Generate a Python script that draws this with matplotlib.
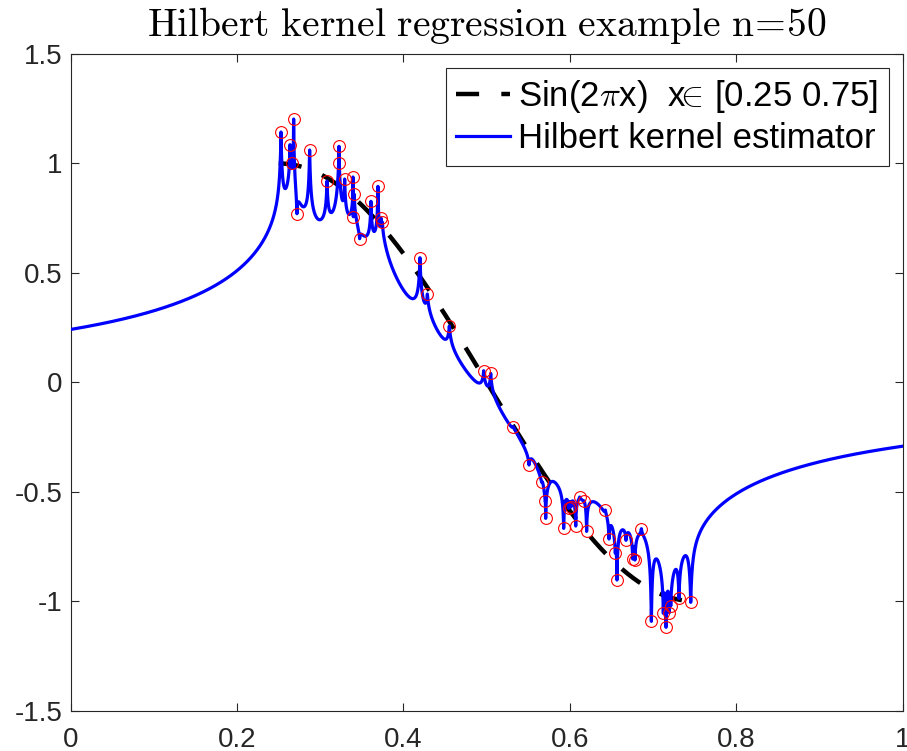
import numpy as np
import matplotlib
matplotlib.use("Agg")
import matplotlib.pyplot as plt

# --- data (sample points) ---
x_samples = [0.2528, 0.2680, 0.2636, 0.2664, 0.2720, 0.2872, 0.3081, 0.3225, 0.3221, 0.3293,
             0.3393, 0.3409, 0.3397, 0.3473, 0.3609, 0.3693, 0.3730, 0.3746, 0.4198, 0.4287,
             0.4551, 0.4964, 0.5048, 0.5320, 0.5509, 0.5661, 0.5705, 0.5709, 0.5925, 0.5985,
             0.6013, 0.6070, 0.6117, 0.6174, 0.6201, 0.6426, 0.6470, 0.6546, 0.6566, 0.6674,
             0.6755, 0.6782, 0.6859, 0.6979, 0.7123, 0.7155, 0.7195, 0.7212, 0.7311, 0.7452]
y_samples = [1.1434, 1.2028, 1.0856, 1.0003, 0.7704, 1.0612, 0.9196, 1.0780, 1.0033, 0.9287,
             0.9379, 0.8587, 0.7566, 0.6561, 0.8267, 0.8952, 0.7506, 0.7323, 0.5693, 0.4034,
             0.2572, 0.0531, 0.0410, -0.2027, -0.3778, -0.4570, -0.5423, -0.6214, -0.6671, -0.5758,
             -0.5697, -0.6565, -0.5240, -0.5423, -0.6808, -0.5834, -0.7158, -0.7813, -0.9031, -0.7219,
             -0.8072, -0.8118, -0.6687, -1.0918, -1.0553, -1.1192, -1.0525, -1.0219, -0.9867, -1.0050]

true_x_range = [0.25, 0.75]
title_text = r"$\mathrm{Hilbert\ kernel\ regression\ example\ n}\!=\!\mathrm{50}$"
legend_labels = [r"Sin(2$\pi$x)  x$\!\!\in\!$ [0.25 0.75]", "Hilbert kernel estimator"]
xticks = [0, 0.2, 0.4, 0.6, 0.8, 1]
xticklabels = ["0", "0.2", "0.4", "0.6", "0.8", "1"]
yticks = [-1.5, -1, -0.5, 0, 0.5, 1, 1.5]
yticklabels = ["-1.5", "-1", "-0.5", "0", "0.5", "1", "1.5"]

xs = np.array(x_samples)
ys = np.array(y_samples)

# Hilbert kernel estimator (d = 1): weights 1/|x - xi|
grid = np.unique(np.concatenate([np.linspace(0, 1, 40001), xs]))
diff = np.abs(grid[:, None] - xs[None, :])
est = np.empty_like(grid)
exact = diff == 0
hit = exact.any(axis=1)
with np.errstate(divide="ignore"):
    w = 1.0 / diff[~hit]
est[~hit] = (w * ys).sum(axis=1) / w.sum(axis=1)
est[hit] = np.array([ys[row].mean() for row in exact[hit]])

xt = np.linspace(true_x_range[0], true_x_range[1], 500)
yt = np.sin(2 * np.pi * xt)

plt.rcParams["mathtext.fontset"] = "cm"
plt.rcParams["font.family"] = ["Liberation Sans", "DejaVu Sans"]

fig = plt.figure(figsize=(9.07, 7.51), dpi=100)
ax = fig.add_axes([0.0779, 0.0537, 0.9953 - 0.0779, 0.9281 - 0.0537])

ax.plot(xt, yt, color="black", lw=3.2, dashes=(5.2, 5.0), label=legend_labels[0], zorder=2)
ax.plot(grid, est, color="#0000ff", lw=2.3, label=legend_labels[1], zorder=3)
ax.plot(xs, ys, "o", mfc="none", mec="#ff0000", mew=0.8, ms=8.5, zorder=4)

ax.set_xlim(0, 1)
ax.set_ylim(-1.5, 1.5)
ax.set_xticks(xticks)
ax.set_xticklabels(xticklabels)
ax.set_yticks(yticks)
ax.set_yticklabels(yticklabels)
axc = "#262626"
for s in ax.spines.values():
    s.set_color(axc)
    s.set_linewidth(0.8)
ax.tick_params(direction="in", length=6, width=0.8, color=axc, labelcolor=axc,
               labelsize=20, top=True, right=True, pad=6)
ax.tick_params(axis="x", pad=12)

ax.set_title(title_text, fontsize=28.5, color="black", pad=13)

leg = ax.legend(loc="upper right", bbox_to_anchor=(0.9835, 0.9787), borderaxespad=0,
                fontsize=25, handlelength=1.55, handletextpad=0.25, labelspacing=0.2,
                borderpad=0.3, fancybox=False, framealpha=1, edgecolor=axc)
leg.get_frame().set_linewidth(0.8)

fig.savefig("out.png", dpi=100)
